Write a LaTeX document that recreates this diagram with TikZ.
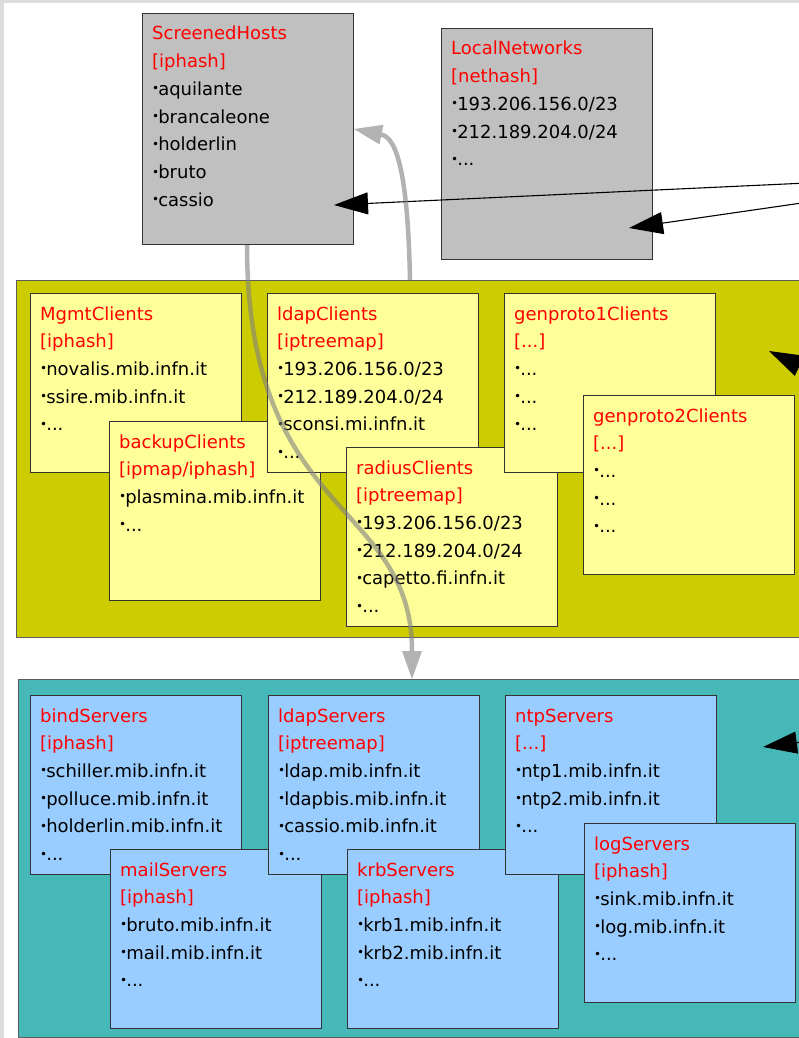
\documentclass[tikz,border=0pt]{standalone}
\usepackage{fontspec}
\setmainfont{DejaVu Sans}
\usetikzlibrary{arrows.meta}

\definecolor{framegray}{HTML}{DDDDDD}
\definecolor{hostgray}{HTML}{C0C0C0}
\definecolor{clientolive}{HTML}{CCCC00}
\definecolor{clientyellow}{HTML}{FFFF99}
\definecolor{serverteal}{HTML}{47B8B8}
\definecolor{serverblue}{HTML}{99CCFF}
\definecolor{edgegray}{HTML}{333333}
\definecolor{setred}{HTML}{FF0000}

% bullet used in front of every list entry
\newcommand\bu{\raisebox{.25ex}{\fontsize{12}{12}\selectfont •}\hspace{-1pt}}
% set name and set type, both in red
\newcommand\hd[2]{\textcolor{setred}{#1}\\\textcolor{setred}{#2}}

\begin{document}
\begin{tikzpicture}[x=1pt,y=-1pt,
  region/.style={draw=edgegray!80, line width=1pt, anchor=north west, inner sep=0pt,
                 minimum width=830pt, minimum height=357pt},
  setbox/.style={draw=edgegray, line width=0.9pt, anchor=north west, inner sep=0pt,
                 minimum width=211pt, minimum height=179pt},
  hostbox/.style={setbox, fill=hostgray, minimum height=231pt},
  clientbox/.style={setbox, fill=clientyellow},
  serverbox/.style={setbox, fill=serverblue},
  listtext/.style={anchor=base west, inner sep=0pt, text width=200pt, align=left,
                   font=\fontsize{18}{27.7}\selectfont, xshift=10pt, yshift=-27pt},
  ptr/.style={line width=1.1pt, -{Triangle[length=34pt,width=22pt]}},
  flow/.style={line width=4.5pt, draw=gray, opacity=.6,
               -{Triangle[length=28pt,width=20pt,line width=0pt]}}
]
\useasboundingbox (0,0) rectangle (799,1038);
\clip (0,0) rectangle (799,1038);

% page frame
\fill[framegray] (0,0) rectangle (799,1038);
\fill[white] (4,3) rectangle (799,1038);

% ---------- host sets ----------
\node[hostbox] (sh) at (142,13) {};
\node[listtext] (shT) at (sh.north west) {\hd{ScreenedHosts}{[iphash]}\\
  \bu aquilante\\ \bu brancaleone\\ \bu holderlin\\ \bu bruto\\ \bu cassio};

\node[hostbox] (ln) at (441,28) {};
\node[listtext] (lnT) at (ln.north west) {\hd{LocalNetworks}{[nethash]}\\
  \bu 193.206.156.0/23\\ \bu 212.189.204.0/24\\ \bu ...};

% ---------- client sets ----------
\node[region, fill=clientolive] (clients) at (16,280) {};

\node[clientbox] (mgmt) at (30,293) {};
\node[listtext] (mgmtT) at (mgmt.north west) {\hd{MgmtClients}{[iphash]}\\
  \bu novalis.mib.infn.it\\ \bu ssire.mib.infn.it\\ \bu ...};

\node[clientbox] (backup) at (109,421) {};
\node[listtext] (backupT) at (backup.north west) {\hd{backupClients}{[ipmap/iphash]}\\
  \bu plasmina.mib.infn.it\\ \bu ...};

\node[clientbox] (ldapc) at (267,293) {};
\node[listtext] (ldapcT) at (ldapc.north west) {\hd{ldapClients}{[iptreemap]}\\
  \bu 193.206.156.0/23\\ \bu 212.189.204.0/24\\ \bu sconsi.mi.infn.it\\ \bu ...};

\node[clientbox] (radius) at (346,447) {};
\node[listtext] (radiusT) at (radius.north west) {\hd{radiusClients}{[iptreemap]}\\
  \bu 193.206.156.0/23\\ \bu 212.189.204.0/24\\ \bu capetto.fi.infn.it\\ \bu ...};

\node[clientbox] (gp1) at (504,293) {};
\node[listtext] (gp1T) at (gp1.north west) {\hd{genproto1Clients}{[...]}\\
  \bu ...\\ \bu ...\\ \bu ...};

\node[clientbox] (gp2) at (583,395) {};
\node[listtext] (gp2T) at (gp2.north west) {\hd{genproto2Clients}{[...]}\\
  \bu ...\\ \bu ...\\ \bu ...};

% ---------- server sets ----------
\node[region, fill=serverteal, minimum height=358pt] (servers) at (18,679) {};

\node[serverbox] (bind) at (30,695) {};
\node[listtext] (bindT) at (bind.north west) {\hd{bindServers}{[iphash]}\\
  \bu schiller.mib.infn.it\\ \bu polluce.mib.infn.it\\ \bu holderlin.mib.infn.it\\ \bu ...};

\node[serverbox] (mail) at (110,849) {};
\node[listtext] (mailT) at (mail.north west) {\hd{mailServers}{[iphash]}\\
  \bu bruto.mib.infn.it\\ \bu mail.mib.infn.it\\ \bu ...};

\node[serverbox] (ldaps) at (268,695) {};
\node[listtext] (ldapsT) at (ldaps.north west) {\hd{ldapServers}{[iptreemap]}\\
  \bu ldap.mib.infn.it\\ \bu ldapbis.mib.infn.it\\ \bu cassio.mib.infn.it\\ \bu ...};

\node[serverbox] (krb) at (347,849) {};
\node[listtext] (krbT) at (krb.north west) {\hd{krbServers}{[iphash]}\\
  \bu krb1.mib.infn.it\\ \bu krb2.mib.infn.it\\ \bu ...};

\node[serverbox] (ntp) at (505,695) {};
\node[listtext] (ntpT) at (ntp.north west) {\hd{ntpServers}{[...]}\\
  \bu ntp1.mib.infn.it\\ \bu ntp2.mib.infn.it\\ \bu ...};

\node[serverbox] (log) at (584,823) {};
\node[listtext] (logT) at (log.north west) {\hd{logServers}{[iphash]}\\
  \bu sink.mib.infn.it\\ \bu log.mib.infn.it\\ \bu ...};

% ---------- connectors ----------
\coordinate (shIn) at (334,205);
\coordinate (lnIn) at (629,228);
\coordinate (cliIn) at (769,351);
\coordinate (srvIn) at (763,747);
\coordinate (srcA) at (850,181);
\coordinate (srcB) at (850,196);
\coordinate (srcC) at (831,381);
\coordinate (srcD) at (840,737);

\draw[ptr] (srcA) -- (shIn);
\draw[ptr] (srcB) -- (lnIn);
\draw[ptr] (srcC) -- (cliIn);
\draw[ptr] (srcD) -- (srvIn);

% flows between the screened hosts and the two regions
\coordinate (upStart) at ([xshift=394pt]clients.north west);
\coordinate (upEnd) at (354,129);
\draw[flow] (upStart) .. controls (408,180) and (398,138) .. (upEnd);

\coordinate (downStart) at ([xshift=105pt]sh.south west);
\coordinate (downEnd) at ([xshift=394pt]servers.north west);
\draw[flow] (downStart) .. controls (247,520) and (412,500) .. (downEnd);
\end{tikzpicture}
\end{document}
